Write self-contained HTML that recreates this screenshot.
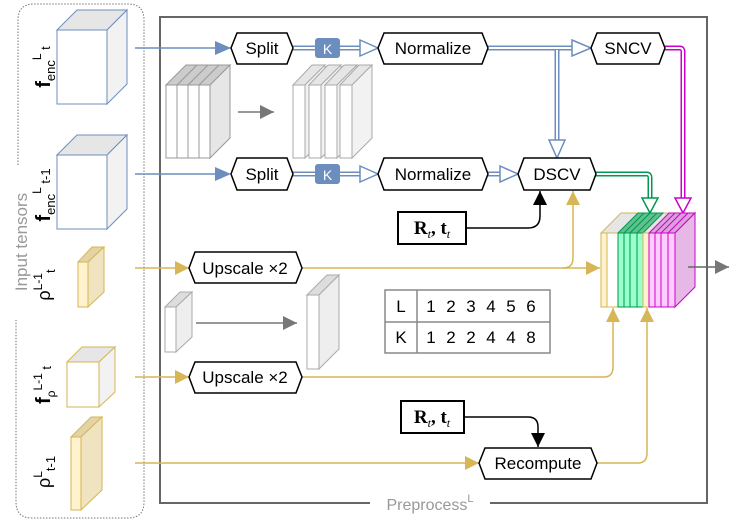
<!DOCTYPE html>
<html><head><meta charset="utf-8"><style>body{margin:0;background:#fff}svg{display:block;font-family:"Liberation Sans","DejaVu Sans",sans-serif}</style></head><body>
<svg width="747" height="526" viewBox="0 0 747 526" xmlns="http://www.w3.org/2000/svg">
<defs>
<marker id="ab" viewBox="0 0 10 10" refX="10" refY="5" markerWidth="9" markerHeight="9" markerUnits="userSpaceOnUse" orient="auto"><path d="M0,0L10,5L0,10z" fill="#6c8ebf"/></marker>
<marker id="ay" viewBox="0 0 10 10" refX="10" refY="5" markerWidth="14" markerHeight="14" markerUnits="userSpaceOnUse" orient="auto"><path d="M0,0L10,5L0,10z" fill="#d6b656"/></marker>
<marker id="ak" viewBox="0 0 10 10" refX="10" refY="5" markerWidth="14" markerHeight="14" markerUnits="userSpaceOnUse" orient="auto"><path d="M0,0L10,5L0,10z" fill="#000"/></marker>
<marker id="ag" viewBox="0 0 10 10" refX="10" refY="5" markerWidth="14" markerHeight="14" markerUnits="userSpaceOnUse" orient="auto"><path d="M0,0L10,5L0,10z" fill="#777"/></marker>
</defs>
<!-- input dotted box -->
<path d="M18,165 L18,20 Q18,4 34,4 L128,4 Q144,4 144,20 L144,502 Q144,518 128,518 L32,518 Q16,518 16,502 L16,320" fill="none" stroke="#777" stroke-dasharray="1.5,1.5"/>
<text transform="translate(27,242) rotate(-90)" text-anchor="middle" font-size="17" fill="#999">Input tensors</text>
<!-- main box -->
<rect x="160" y="17" width="547" height="486" fill="none" stroke="#666" stroke-width="2"/>
<rect x="370" y="493" width="120" height="20" fill="#fff"/>
<text x="430" y="510" text-anchor="middle" font-size="16" fill="#999">Preprocess<tspan font-size="11" dy="-8">L</tspan></text>

<!-- cubes -->
<g stroke="#6c8ebf" stroke-width="1">
<path d="M57,30 L77,10 L127,10 L107,30z" fill="#e6e6e6"/><path d="M107,30 L127,10 L127,84 L107,104z" fill="#f2f2f2"/><rect x="57" y="30" width="50" height="74" fill="#fff"/>
<path d="M57,155 L77,135 L127,135 L107,155z" fill="#e6e6e6"/><path d="M107,155 L127,135 L127,209 L107,229z" fill="#f2f2f2"/><rect x="57" y="155" width="50" height="74" fill="#fff"/>
</g>
<g stroke="#d6b656" stroke-width="1">
<path d="M78,262 L92,247 L104,247 L88,262z" fill="#e3d3a5"/><path d="M88,262 L104,247 L104,292 L88,307z" fill="#f0e3bf"/><rect x="78" y="262" width="10" height="45" fill="#fff2cc"/>
<path d="M67,362 L82,347 L115,347 L99,362z" fill="#e6e6e6"/><path d="M99,362 L115,347 L115,392 L99,407z" fill="#f2f2f2"/><rect x="67" y="362" width="32" height="45" fill="#fff"/>
<path d="M71,437 L91,417 L102,417 L81,437z" fill="#e3d3a5"/><path d="M81,437 L102,417 L102,490 L81,510z" fill="#f0e3bf"/><rect x="71" y="437" width="10" height="73" fill="#fff2cc"/>
</g>
<g font-size="18" fill="#000">
<text transform="translate(50,67) rotate(-90)" text-anchor="middle"><tspan font-weight="bold" font-size="20">f</tspan><tspan font-size="13" dy="5">enc</tspan><tspan font-size="12" dy="-14">L</tspan><tspan font-size="13" dy="9"> t</tspan></text>
<text transform="translate(50,195) rotate(-90)" text-anchor="middle"><tspan font-weight="bold" font-size="20">f</tspan><tspan font-size="13" dy="5">enc</tspan><tspan font-size="12" dy="-14">L</tspan><tspan font-size="13" dy="9"> t-1</tspan></text>
<text transform="translate(50,285) rotate(-90)" text-anchor="middle">ρ<tspan font-size="12" dy="-8">L-1</tspan><tspan font-size="13" dy="13">t</tspan></text>
<text transform="translate(50,385) rotate(-90)" text-anchor="middle"><tspan font-weight="bold" font-size="20">f</tspan><tspan font-size="12" dy="5">ρ</tspan><tspan font-size="12" dy="-13">L-1</tspan><tspan font-size="13" dy="9"> t</tspan></text>
<text transform="translate(50,472) rotate(-90)" text-anchor="middle">ρ<tspan font-size="12" dy="-8">L</tspan><tspan font-size="13" dy="13">t-1</tspan></text>
</g>

<!-- blue input arrows -->
<line x1="135" y1="48" x2="230" y2="48" stroke="#6c8ebf" stroke-width="1.5" marker-end="url(#ay)" style="marker-end:none"/>
<path d="M215,41L231,48L215,55z" fill="#6c8ebf"/>
<line x1="135" y1="174" x2="216" y2="174" stroke="#6c8ebf" stroke-width="1.5"/>
<path d="M215,167L231,174L215,181z" fill="#6c8ebf"/>
<!-- yellow input arrows -->
<line x1="135" y1="268" x2="189" y2="268" stroke="#d6b656" stroke-width="1.5" marker-end="url(#ay)"/>
<line x1="135" y1="377" x2="189" y2="377" stroke="#d6b656" stroke-width="1.5" marker-end="url(#ay)"/>
<line x1="135" y1="463" x2="479" y2="463" stroke="#d6b656" stroke-width="1.5" marker-end="url(#ay)"/>

<!-- double blue arrows -->
<g fill="none">
<path d="M293,48H315M340,48H360M488,48H572M557,48V140M293,174H315M340,174H360M488,174H500" stroke="#6c8ebf" stroke-width="5"/>
<path d="M293,48H315M340,48H362M488,48H573M557,50V141M293,174H315M340,174H362M488,174H501" stroke="#fff" stroke-width="2"/>
</g>
<g fill="#fff" stroke="#6c8ebf" stroke-width="1.5">
<path d="M360,40L378,48L360,56z"/><path d="M572,40L591,48L572,56z"/><path d="M549,140L557,158L565,140z"/><path d="M360,166L378,174L360,182z"/><path d="M500,166L518,174L500,182z"/>
</g>
<!-- green / magenta -->
<path d="M596,174H647Q650,174 650,178V198" fill="none" stroke="#00994d" stroke-width="5"/>
<path d="M596,174H647Q650,174 650,178V199" fill="none" stroke="#fff" stroke-width="2"/>
<path d="M642,198L650,213L658,198z" fill="#fff" stroke="#00994d" stroke-width="1.5"/>
<path d="M665,48H680Q683,48 683,52V198" fill="none" stroke="#cc00cc" stroke-width="5"/>
<path d="M665,48H680Q683,48 683,52V199" fill="none" stroke="#fff" stroke-width="2"/>
<path d="M675,198L683,213L691,198z" fill="#fff" stroke="#cc00cc" stroke-width="1.5"/>

<!-- K boxes -->
<rect x="315" y="38" width="25" height="20" rx="3" fill="#6c8ebf"/><text x="327.5" y="54" text-anchor="middle" font-size="14" fill="#fff">K</text>
<rect x="315" y="164" width="25" height="20" rx="3" fill="#6c8ebf"/><text x="327.5" y="180" text-anchor="middle" font-size="14" fill="#fff">K</text>

<!-- yellow connectors -->
<g fill="none" stroke="#d6b656" stroke-width="1.5">
<path d="M302,268H600" marker-end="url(#ay)"/>
<path d="M563,268Q573,268 573,258V191" marker-end="url(#ay)"/>
<path d="M302,377H604Q613,377 613,367V308" marker-end="url(#ay)"/>
<path d="M597,463H638Q647,463 647,453V308" marker-end="url(#ay)"/>
</g>
<!-- black connectors -->
<g fill="none" stroke="#000" stroke-width="1.5">
<path d="M466,228H528Q540,228 540,216V191" marker-end="url(#ak)"/>
<path d="M464,417H528Q538,417 538,427V447" marker-end="url(#ak)"/>
</g>

<!-- hexagons -->
<g fill="#fff" stroke="#000" stroke-width="1.5">
<path d="M231,48L237,33H287L293,48L287,64H237z"/>
<path d="M378,48L384,33H482L488,48L482,64H384z"/>
<path d="M591,48L597,33H659L665,48L659,64H597z"/>
<path d="M231,174L237,158H287L293,174L287,190H237z"/>
<path d="M378,174L384,158H482L488,174L482,190H384z"/>
<path d="M518,174L524,158H590L596,174L590,190H524z"/>
<path d="M189,268L195,252H296L302,268L296,283H195z"/>
<path d="M189,377L195,362H296L302,377L296,393H195z"/>
<path d="M479,463L485,448H591L597,463L591,479H485z"/>
</g>
<g font-size="17" text-anchor="middle" fill="#000">
<text x="262" y="54">Split</text><text x="433" y="54">Normalize</text><text x="628" y="54">SNCV</text>
<text x="262" y="180">Split</text><text x="433" y="180">Normalize</text><text x="557" y="180">DSCV</text>
<text x="245" y="274">Upscale ×2</text><text x="245" y="383">Upscale ×2</text><text x="538" y="469">Recompute</text>
</g>
<!-- R,t boxes -->
<rect x="398" y="212" width="68" height="32" fill="#fff" stroke="#000" stroke-width="2"/>
<text x="432" y="234" text-anchor="middle" font-family="Liberation Serif,serif" font-size="19" font-weight="bold">R<tspan font-style="italic" font-weight="normal" font-size="12" dy="4">t</tspan><tspan dy="-4">, t</tspan><tspan font-style="italic" font-weight="normal" font-size="12" dy="4">t</tspan></text>
<rect x="401" y="401" width="63" height="32" fill="#fff" stroke="#000" stroke-width="2"/>
<text x="432" y="423" text-anchor="middle" font-family="Liberation Serif,serif" font-size="19" font-weight="bold">R<tspan font-style="italic" font-weight="normal" font-size="12" dy="4">t</tspan><tspan dy="-4">, t</tspan><tspan font-style="italic" font-weight="normal" font-size="12" dy="4">t</tspan></text>

<!-- split illustration -->
<g stroke="#999" stroke-width="1">
<path d="M166,85L186,65H230L210,85z" fill="#ccc"/><path d="M177,85L197,65M188,85L208,65M199,85L219,65" />
<path d="M210,85L230,65V138L210,158z" fill="#e6e6e6"/>
<rect x="166" y="85" width="44" height="73" fill="#fff"/><path d="M177,85V158M188,85V158M199,85V158"/>
</g>
<line x1="238" y1="112" x2="274" y2="112" stroke="#777" stroke-width="1.5" marker-end="url(#ag)"/>
<g stroke="#aaa" stroke-width="1" fill="#fff">
<g><path d="M293,85L312,65H325L305,85z" fill="#e6e6e6"/><path d="M305,85L325,65V138L305,158z" fill="#f2f2f2"/><rect x="293" y="85" width="12" height="73"/></g>
<g transform="translate(16,0)"><path d="M293,85L312,65H325L305,85z" fill="#e6e6e6"/><path d="M305,85L325,65V138L305,158z" fill="#f2f2f2"/><rect x="293" y="85" width="12" height="73"/></g>
<g transform="translate(32,0)"><path d="M293,85L312,65H325L305,85z" fill="#e6e6e6"/><path d="M305,85L325,65V138L305,158z" fill="#f2f2f2"/><rect x="293" y="85" width="12" height="73"/></g>
<g transform="translate(47,0)"><path d="M293,85L312,65H325L305,85z" fill="#e6e6e6"/><path d="M305,85L325,65V138L305,158z" fill="#f2f2f2"/><rect x="293" y="85" width="12" height="73"/></g>
</g>
<!-- upscale illustration -->
<g stroke="#aaa" stroke-width="1">
<path d="M165,307L180,292H192L176,307z" fill="#ddd"/><path d="M176,307L192,292V337L176,352z" fill="#eee"/><rect x="165" y="307" width="11" height="45" fill="#fff"/>
<path d="M307,295L327,275H339L319,295z" fill="#ddd"/><path d="M319,295L339,275V349L319,369z" fill="#eee"/><rect x="307" y="295" width="12" height="74" fill="#fff"/>
</g>
<line x1="196" y1="323" x2="297" y2="323" stroke="#777" stroke-width="1.5" marker-end="url(#ag)"/>
<!-- table -->
<g stroke="#888" stroke-width="1.5" fill="none"><rect x="385" y="290" width="165" height="63"/><line x1="417" y1="290" x2="417" y2="353"/><line x1="385" y1="322" x2="550" y2="322"/></g>
<g font-size="17" fill="#000" text-anchor="middle"><text x="401" y="312">L</text><text x="401" y="343">K</text>
<text x="431" y="312">1</text><text x="451" y="312">2</text><text x="471" y="312">3</text><text x="491" y="312">4</text><text x="511" y="312">5</text><text x="531" y="312">6</text>
<text x="431" y="343">1</text><text x="451" y="343">2</text><text x="471" y="343">2</text><text x="491" y="343">4</text><text x="511" y="343">4</text><text x="531" y="343">8</text></g>

<!-- output stack -->
<g stroke-width="1">
<path d="M601,233L621,213H695L675,233z" fill="#e6e6e6" stroke="#d6b656"/>
<path d="M618,233L638,213H663L643,233z" fill="#60c090" stroke="#00994d"/>
<path d="M624,233L644,213M630,233L650,213M637,233L657,213" stroke="#00994d"/>
<path d="M649,233L669,213H695L675,233z" fill="#d9a0d9" stroke="#cc00cc"/>
<path d="M655,233L675,213M661,233L681,213M668,233L688,213" stroke="#cc00cc"/>
<path d="M675,233L695,213V287L675,307z" fill="#e6b8e6" stroke="#cc00cc"/>
<rect x="601" y="233" width="6" height="74" fill="#fff2cc" stroke="#d6b656"/>
<rect x="607" y="233" width="11" height="74" fill="#fff" stroke="#d6b656"/>
<rect x="618" y="233" width="25" height="74" fill="#99ffcc" stroke="#00994d"/>
<path d="M624,233V307M630,233V307M637,233V307" stroke="#00994d"/>
<rect x="643" y="233" width="6" height="74" fill="#fff2cc" stroke="#d6b656"/>
<rect x="649" y="233" width="26" height="74" fill="#ffccff" stroke="#cc00cc"/>
<path d="M655,233V307M661,233V307M668,233V307" stroke="#cc00cc"/>
</g>
<line x1="688" y1="267" x2="729" y2="267" stroke="#666" stroke-width="1.5" marker-end="url(#ag)"/>
</svg>
</body></html>
